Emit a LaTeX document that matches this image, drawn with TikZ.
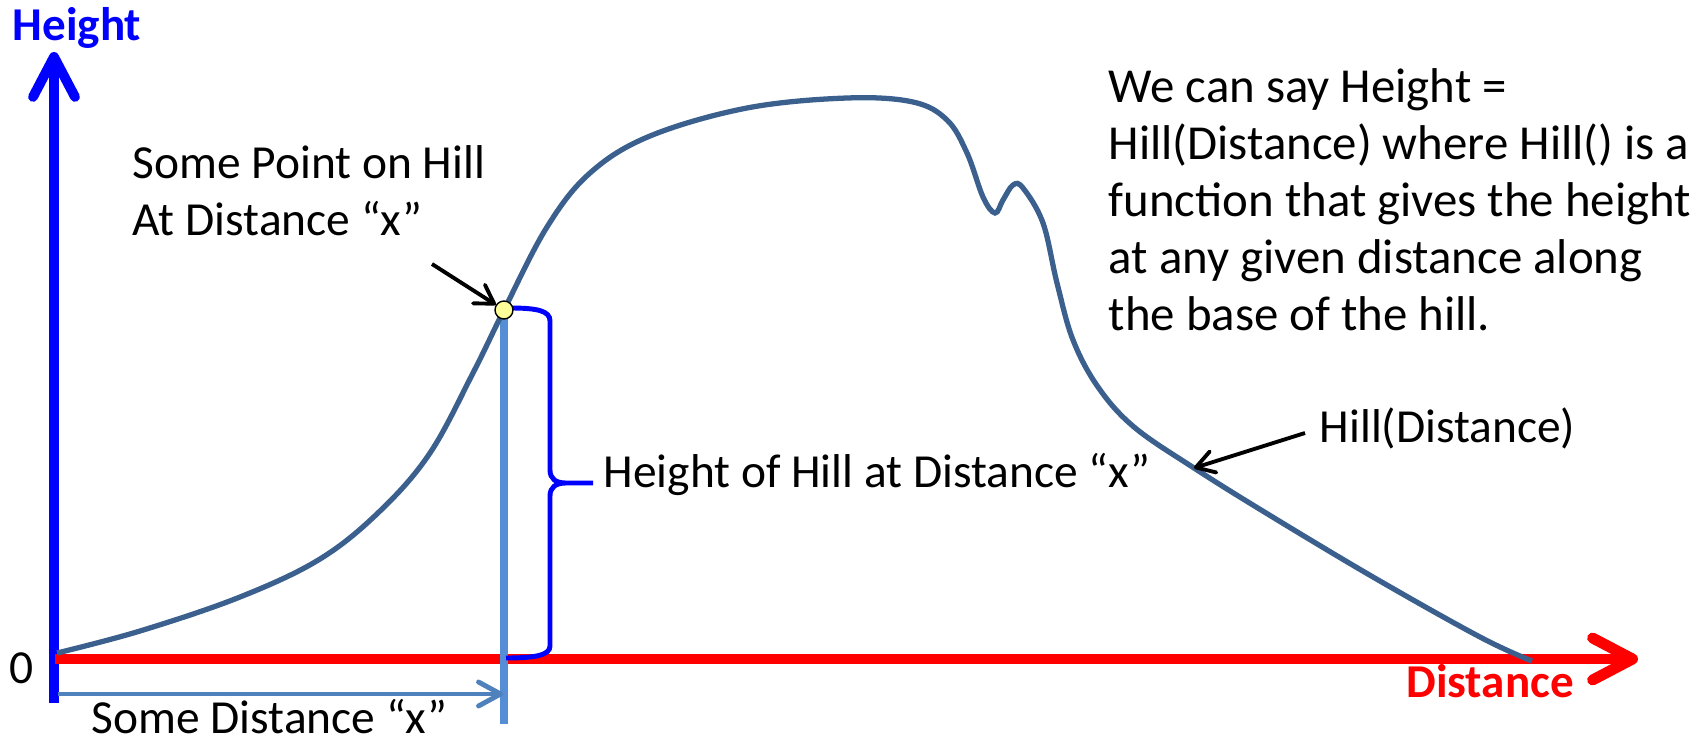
\documentclass[tikz,border=0pt]{standalone}
\usepackage{fontspec}
\setmainfont{Carlito}
\usetikzlibrary{arrows.meta}
\definecolor{AxBlue}{RGB}{0,0,255}
\definecolor{AxRed}{RGB}{255,0,0}
\definecolor{HillBlue}{RGB}{59,96,142}
\definecolor{MarkBlue}{RGB}{85,142,213}
\definecolor{MeasBlue}{RGB}{79,129,189}
\definecolor{PtYellow}{RGB}{255,255,153}

\begin{document}
\begin{tikzpicture}[
    lbl/.style={inner sep=0pt, align=left,
                font=\fontsize{13.5}{16.2}\selectfont},
    axlbl/.style={inner sep=0pt, font=\fontsize{13.4}{16.2}\selectfont\bfseries},
    yax/.style={draw=AxBlue, line width=2.8pt,
                -{Straight Barb[length=4mm, width=4.2mm, round]}},
    xax/.style={draw=AxRed, line width=3.1pt,
                -{Straight Barb[length=4mm, width=4.2mm, round]}},
    hill/.style={draw=HillBlue, line width=1.5pt},
    vmark/.style={draw=MarkBlue, line width=2.3pt},
    meas/.style={draw=MeasBlue, line width=1.4pt,
                 -{Straight Barb[length=2.2mm, width=2.4mm, round]}},
    brc/.style={draw=AxBlue, line width=1.4pt},
    ptr/.style={draw=black, line width=1.1pt,
                -{Straight Barb[length=1.8mm, width=2.2mm, round]}},
    hillpt/.style={circle, draw=black, line width=0.4pt, fill=PtYellow,
                   minimum size=0.18cm, inner sep=0pt}
  ]
  \useasboundingbox (0,0) rectangle (17,7.41);

  % axes
  \coordinate (ybot) at (0.54,0.38);
  \coordinate (ytop) at (0.54,6.89);
  \coordinate (xbeg) at (0.55,0.82);
  \coordinate (xend) at (16.38,0.82);
  \draw[yax] (ybot) -- (ytop);
  \draw[xax] (xbeg) -- (xend);
  \node[axlbl, text=AxBlue, anchor=base] (hgt) at (0.77,7.00) {Height};
  \node[axlbl, text=AxRed, anchor=base] (dst) at (14.90,0.44) {Distance};
  \node[lbl, anchor=base] (zero) at (0.22,0.58) {0};

  % marker line under the point
  \coordinate (ptc) at (5.04,4.31);
  \coordinate (vbot) at (5.04,0.17);
  \draw[vmark] (ptc) -- (vbot);

  % the hill
  \draw[hill] plot[smooth, tension=0.6] coordinates {
      (0.57,0.88) (1.40,1.10) (2.40,1.44) (3.20,1.82) (3.80,2.30)
      (4.30,2.88) (4.73,3.68) (5.04,4.31) (5.47,5.14) (5.90,5.68)
      (6.50,6.05) (7.47,6.33) (8.47,6.43) (9.13,6.39) (9.47,6.21)
      (9.67,5.88) (9.83,5.44) (9.95,5.28) (10.03,5.41) (10.13,5.56)
      (10.23,5.53) (10.43,5.18) (10.57,4.58) (10.73,4.01) (10.98,3.54)
      (11.34,3.14) (11.94,2.73) (12.66,2.28) (13.73,1.64) (14.80,1.04)
      (15.32,0.80)};

  % brace for the height
  \draw[brc] (5.10,4.33) .. controls (5.38,4.33) and (5.50,4.30) .. (5.50,4.20)
      -- (5.50,2.71) .. controls (5.50,2.62) and (5.56,2.58) .. (5.66,2.58)
      -- (5.93,2.58) -- (5.66,2.58)
      .. controls (5.56,2.58) and (5.50,2.54) .. (5.50,2.45)
      -- (5.50,0.95) .. controls (5.50,0.86) and (5.36,0.83) .. (5.06,0.83);

  \node[hillpt] (pt) at (ptc) {};

  % distance along the base
  \coordinate (mbeg) at (0.58,0.47);
  \coordinate (mend) at (5.03,0.47);
  \draw[meas] (mbeg) -- (mend);
  \node[lbl, anchor=base west] (mlbl) at (0.91,0.08) {Some Distance “x”};

  % labels (base = last line)
  \node[lbl, anchor=base west] (ptlbl) at (1.32,5.06)
        {Some Point on Hill\\At Distance “x”};
  \node[lbl, anchor=base west] (hlbl) at (6.03,2.54)
        {Height of Hill at Distance “x”};
  \node[lbl, anchor=base west] (flbl) at (13.19,2.99) {Hill(Distance)};
  \node[lbl, anchor=base west, font=\fontsize{13.9}{16.2}\selectfont]
        (desc) at (11.08,4.11)
        {We can say Height =\\Hill(Distance) where Hill() is a\\
         function that gives the height\\at any given distance along\\
         the base of the hill.};

  \coordinate (ptarr) at (4.32,4.77);
  \draw[ptr] (ptarr) -- (pt);
  \coordinate (flarr) at (13.05,3.08);
  \coordinate (fltip) at (11.94,2.73);
  \draw[ptr] (flarr) -- (fltip);
\end{tikzpicture}
\end{document}
